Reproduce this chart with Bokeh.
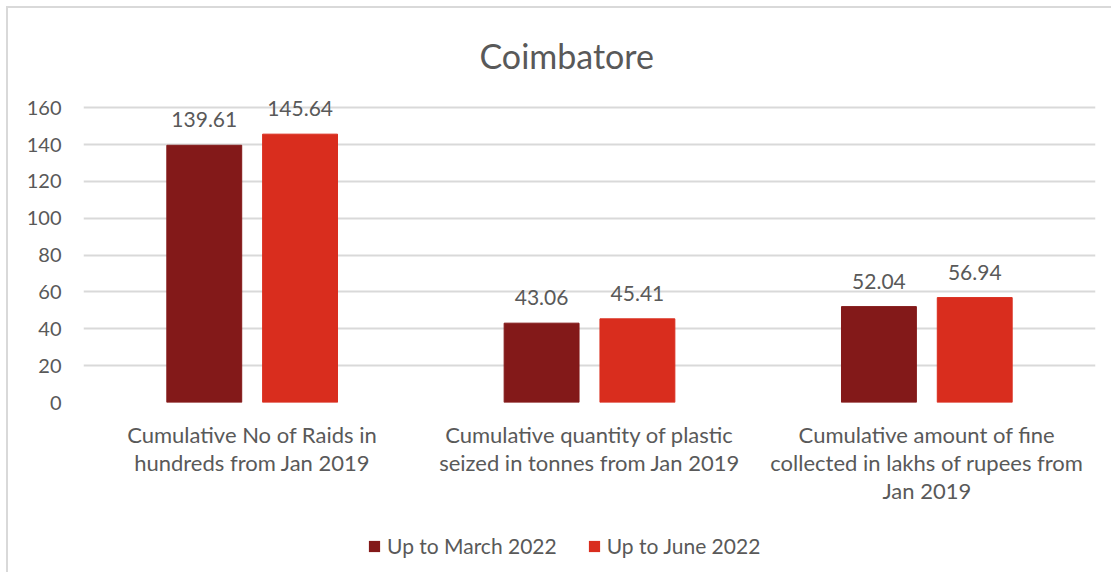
import numpy as np
from bokeh.plotting import figure
from bokeh.layouts import column
from bokeh.models import Range1d, FixedTicker, Legend, LegendItem
from bokeh.embed import file_html
from bokeh.resources import INLINE

title = "Coimbatore"
categories = [
    "Cumulative No of Raids in\nhundreds from Jan 2019",
    "Cumulative quantity of plastic\nseized in tonnes from Jan 2019",
    "Cumulative amount of fine\ncollected in lakhs of rupees from\nJan 2019",
]
series_names = ["Up to March 2022", "Up to June 2022"]
march_2022 = [139.61, 43.06, 52.04]
june_2022 = [145.64, 45.41, 56.94]
y_ticks = [0, 20, 40, 60, 80, 100, 120, 140, 160]

colors = ["#831919", "#D92D1E"]
FONT = "Lato"
TXT = "#595959"

centers = np.arange(len(categories)) + 0.5

p = figure(
    width=1103, height=504,
    frame_width=1012, frame_height=304,
    min_border_left=75, min_border_right=16, min_border_top=90, min_border_bottom=110,
    x_range=Range1d(0, 3), y_range=Range1d(0, 165),
    output_backend="svg", toolbar_location=None,
)
p.outline_line_color = None
p.background_fill_color = "white"
p.border_fill_color = "white"

p.title.text = title
p.title.align = "left"
p.title.text_font = FONT
p.title.text_font_size = "34px"
p.title.text_font_style = "normal"
p.title.text_color = TXT
p.title.offset = 396
p.title.standoff = 46

# axes
p.yaxis.ticker = FixedTicker(ticks=y_ticks)
p.yaxis.axis_line_color = None
p.yaxis.major_tick_line_color = None
p.yaxis.minor_tick_line_color = None
p.yaxis.major_label_text_font = FONT
p.yaxis.major_label_text_font_size = "20px"
p.yaxis.major_label_text_color = TXT
p.yaxis.major_label_standoff = 16

p.xaxis.ticker = FixedTicker(ticks=list(centers))
p.xaxis.major_label_overrides = {float(c): lab for c, lab in zip(centers, categories)}
p.xaxis.axis_line_color = None
p.xaxis.major_tick_line_color = None
p.xaxis.minor_tick_line_color = None
p.xaxis.major_label_text_font = FONT
p.xaxis.major_label_text_font_size = "22px"
p.xaxis.major_label_text_color = TXT
p.xaxis.major_label_text_line_height = 1.05
p.xaxis.major_label_standoff = 12

p.xgrid.grid_line_color = None
p.ygrid.grid_line_color = "#d9d9d9"
p.ygrid.grid_line_width = 2

bw = 0.222
off = 0.142
p.vbar(x=centers - off, top=march_2022, width=bw, color=colors[0])
p.vbar(x=centers + off, top=june_2022, width=bw, color=colors[1])

for xs, vals in [(centers - off, march_2022), (centers + off, june_2022)]:
    p.text(x=xs, y=vals, text=[f"{v:.2f}" for v in vals],
           text_align="center", text_baseline="bottom", y_offset=-18,
           text_font={"value": FONT}, text_font_size="21px", text_color=TXT)

# legend strip below the chart (series drawn out of view, only their swatches show)
lf = figure(
    width=1103, height=60, min_border=0,
    x_range=Range1d(0, 3), y_range=Range1d(1000, 1001),
    x_axis_location=None, y_axis_location=None,
    output_backend="svg", toolbar_location=None,
)
lf.outline_line_color = None
lf.grid.grid_line_color = None
lf.border_fill_color = "white"
sw1 = lf.vbar(x=centers - off, top=march_2022, width=bw, fill_color=colors[0], line_alpha=0)
sw2 = lf.vbar(x=centers + off, top=june_2022, width=bw, fill_color=colors[1], line_alpha=0)

legend = Legend(
    items=[LegendItem(label=series_names[0], renderers=[sw1]),
           LegendItem(label=series_names[1], renderers=[sw2])],
    orientation="horizontal", location=(284, 14),
    glyph_width=14, glyph_height=14, label_standoff=6, spacing=30,
    padding=0, margin=0,
    border_line_color=None, background_fill_alpha=0,
    label_text_font=FONT, label_text_font_size="21px", label_text_color=TXT,
)
lf.add_layout(legend, "center")

layout = column(
    p, lf,
    styles={"margin-left": "6px", "margin-top": "6px",
            "border-left": "2px solid #d9d9d9", "border-top": "2px solid #d9d9d9"},
)

open("out.html", "w").write(file_html(layout, INLINE))
